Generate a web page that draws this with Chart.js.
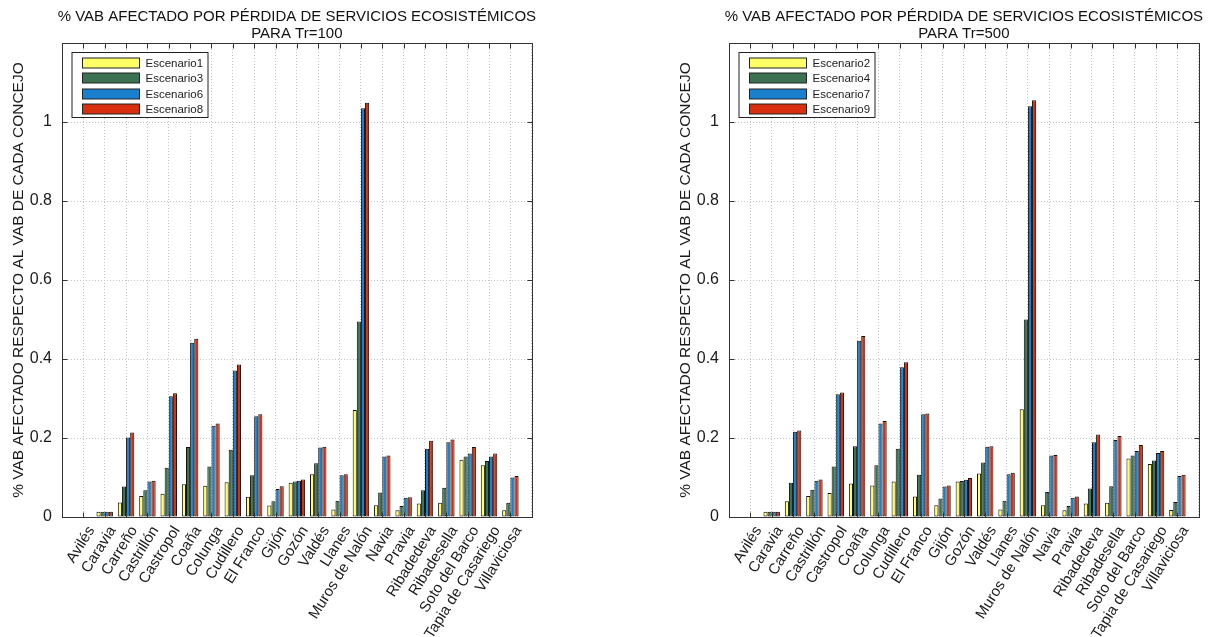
<!DOCTYPE html>
<html lang="es">
<head>
<meta charset="UTF-8">
<title>% VAB afectado por pérdida de servicios ecosistémicos</title>
<style>
  body { margin: 0; background: #fff; width: 1220px; height: 637px; overflow: hidden; position: relative; }
  .panel { position: absolute; top: 0; width: 553px; height: 637px; }
  #panelA { left: 0; }
  #panelB { left: 667px; }
</style>
<script src="https://cdn.jsdelivr.net/npm/chart.js"></script>
</head>
<body>
<div class="panel" id="panelA"><canvas id="graficoTr100" width="553" height="637"></canvas></div>
<div class="panel" id="panelB"><canvas id="graficoTr500" width="553" height="637"></canvas></div>

<script>
// Datos
const concejos = ['Avilés', 'Caravia', 'Carreño', 'Castrillón', 'Castropol', 'Coaña', 'Colunga',
    'Cudillero', 'El Franco', 'Gijón', 'Gozón', 'Valdés', 'Llanes', 'Muros de Nalón', 'Navia',
    'Pravia', 'Ribadedeva', 'Ribadesella', 'Soto del Barco', 'Tapia de Casariego', 'Villaviciosa'];
const yTicks = [0, 0.2, 0.4, 0.6, 0.8, 1];
const colores = ['#ffff66', '#3b7352', '#1a7fcc', '#d8300f'];

// Tr=100
const escenario1 = [0, 0.013, 0.037, 0.053, 0.059, 0.083, 0.079, 0.088, 0.051, 0.029, 0.087, 0.108, 0.019, 0.271, 0.030, 0.017, 0.034, 0.036, 0.145, 0.131, 0.017];
const escenario3 = [0, 0.013, 0.077, 0.068, 0.125, 0.177, 0.128, 0.170, 0.106, 0.040, 0.090, 0.136, 0.041, 0.495, 0.062, 0.028, 0.068, 0.074, 0.153, 0.142, 0.036];
const escenario6 = [0, 0.013, 0.201, 0.090, 0.306, 0.441, 0.231, 0.371, 0.255, 0.071, 0.092, 0.176, 0.106, 1.035, 0.153, 0.049, 0.173, 0.189, 0.161, 0.153, 0.100];
const escenario8 = [0, 0.013, 0.214, 0.092, 0.313, 0.451, 0.237, 0.386, 0.260, 0.078, 0.095, 0.178, 0.108, 1.049, 0.156, 0.050, 0.193, 0.196, 0.177, 0.161, 0.104];

// Tr=500
const escenario2 = [0, 0.013, 0.040, 0.053, 0.061, 0.085, 0.080, 0.090, 0.052, 0.030, 0.090, 0.110, 0.019, 0.273, 0.030, 0.017, 0.034, 0.036, 0.148, 0.134, 0.018];
const escenario4 = [0, 0.013, 0.087, 0.069, 0.128, 0.179, 0.131, 0.173, 0.107, 0.047, 0.091, 0.138, 0.041, 0.500, 0.063, 0.028, 0.072, 0.078, 0.156, 0.143, 0.038];
const escenario7 = [0, 0.013, 0.216, 0.092, 0.311, 0.446, 0.237, 0.379, 0.260, 0.077, 0.094, 0.178, 0.108, 1.040, 0.156, 0.049, 0.189, 0.195, 0.167, 0.162, 0.104];
const escenario9 = [0, 0.013, 0.219, 0.095, 0.315, 0.458, 0.243, 0.392, 0.262, 0.080, 0.099, 0.179, 0.112, 1.055, 0.157, 0.052, 0.209, 0.205, 0.182, 0.167, 0.107];

const titulo = '% VAB AFECTADO POR PÉRDIDA DE SERVICIOS ECOSISTÉMICOS';
const fuente = '"Liberation Sans", Arial, sans-serif';
Chart.defaults.font.family = fuente;

// marco tipo matlab: caja, ticks hacia dentro, titulo y leyenda dentro del eje
const marcoMatlab = {
    id: 'marcoMatlab',
    afterDraw(chart, args, opts) {
        const { ctx, chartArea: a, scales: { x, y } } = chart;
        ctx.save();
        ctx.strokeStyle = '#333';
        ctx.lineWidth = 1;
        const l = Math.round(a.left) + 0.5, t = Math.round(a.top) + 0.5;
        const r = Math.round(a.right) + 0.5, b = Math.round(a.bottom) + 0.5;
        ctx.strokeRect(l, t, r - l, b - t);

        ctx.beginPath();
        for (let i = 1; i <= concejos.length; i++) {
            const px = Math.round(x.getPixelForTick(i)) + 0.5;
            ctx.moveTo(px, b); ctx.lineTo(px, b - 5);
            ctx.moveTo(px, t); ctx.lineTo(px, t + 5);
        }
        yTicks.forEach(v => {
            const py = Math.round(y.getPixelForValue(v)) + 0.5;
            ctx.moveTo(l, py); ctx.lineTo(l + 5, py);
            ctx.moveTo(r, py); ctx.lineTo(r - 5, py);
        });
        ctx.stroke();

        // titulo
        const cx = (a.left + a.right) / 2;
        ctx.fillStyle = '#111';
        ctx.font = '15px ' + fuente;
        ctx.textAlign = 'center';
        ctx.textBaseline = 'middle';
        ctx.fillText(titulo, cx, 16.5);
        ctx.fillText(opts.subtitulo, cx, 34);

        // leyenda
        const bx = l + 9.5, by = t + 9, bw = 136, bh = 65;
        ctx.fillStyle = '#fff';
        ctx.fillRect(bx, by, bw, bh);
        ctx.strokeStyle = '#222';
        ctx.strokeRect(bx, by, bw, bh);
        ctx.font = '11.5px ' + fuente;
        ctx.textAlign = 'left';
        chart.data.datasets.forEach((ds, i) => {
            const cy = Math.round(by + 10 + i * 15.5);
            ctx.fillStyle = ds.backgroundColor;
            ctx.fillRect(bx + 10.5, cy - 5, 57, 10);
            ctx.strokeRect(bx + 10.5, cy - 5, 57, 10);
            ctx.fillStyle = '#222';
            ctx.fillText(ds.label, bx + 73.5, cy + 0.5);
        });
        ctx.restore();
    }
};

function crearGrafico(id, subtitulo, nombres, series) {
    const ctx = document.getElementById(id).getContext('2d');
    return new Chart(ctx, {
        type: 'bar',
        data: {
            labels: ['', ...concejos, ''],
            datasets: series.map((s, i) => ({
                label: nombres[i],
                data: [null, ...s, null],
                backgroundColor: colores[i],
                borderColor: '#111',
                borderWidth: 1,
                borderSkipped: false
            }))
        },
        options: {
            responsive: false,
            animation: false,
            devicePixelRatio: 1,
            layout: { padding: { left: 0, right: 17, top: 43, bottom: 0 } },
            datasets: { bar: { categoryPercentage: 0.77, barPercentage: 1 } },
            plugins: {
                legend: { display: false },
                tooltip: { enabled: false },
                marcoMatlab: { subtitulo: subtitulo }
            },
            scales: {
                x: {
                    offset: false,
                    grid: { offset: false, color: '#c4c4c4', drawTicks: false },
                    border: { display: false, dash: [1, 2] },
                    ticks: {
                        autoSkip: false,
                        minRotation: 58,
                        maxRotation: 58,
                        padding: 6,
                        labelOffset: 8,
                        color: '#1a1a1a',
                        font: { size: 15 }
                    },
                    afterFit(s) { s.height = 120; }
                },
                y: {
                    min: 0,
                    max: 1.2,
                    grid: { color: '#c4c4c4', drawTicks: false },
                    border: { display: false, dash: [1, 2] },
                    ticks: {
                        stepSize: 0.2,
                        padding: 10,
                        color: '#1a1a1a',
                        font: { size: 16 },
                        callback: v => v > 1.05 ? '' : String(Math.round(v * 10) / 10)
                    },
                    title: {
                        display: true,
                        text: '% VAB AFECTADO RESPECTO AL VAB DE CADA CONCEJO',
                        color: '#1a1a1a',
                        font: { size: 15.5 },
                        padding: { top: 9, bottom: 0 }
                    },
                    afterFit(s) { s.width = 62; }
                }
            }
        },
        plugins: [marcoMatlab]
    });
}

crearGrafico('graficoTr100', 'PARA Tr=100',
    ['Escenario1', 'Escenario3', 'Escenario6', 'Escenario8'],
    [escenario1, escenario3, escenario6, escenario8]);

crearGrafico('graficoTr500', 'PARA Tr=500',
    ['Escenario2', 'Escenario4', 'Escenario7', 'Escenario9'],
    [escenario2, escenario4, escenario7, escenario9]);
</script>
</body>
</html>
